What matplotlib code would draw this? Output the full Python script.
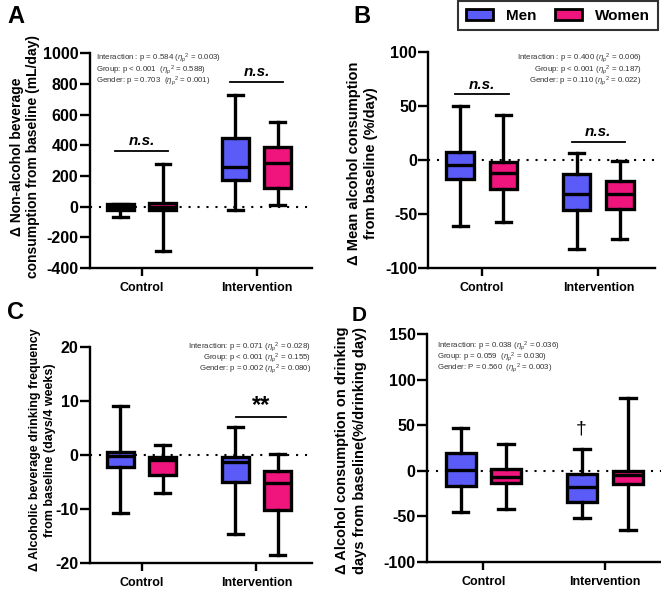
import matplotlib
matplotlib.use('Agg')
import matplotlib.pyplot as plt
from matplotlib.patches import Patch

plt.rcParams['font.family'] = ['Liberation Sans', 'DejaVu Sans']
plt.rcParams['mathtext.fontset'] = 'custom'
plt.rcParams['mathtext.rm'] = 'Liberation Sans'
plt.rcParams['mathtext.it'] = 'Liberation Sans:italic'
plt.rcParams['axes.unicode_minus'] = False

groups = ['Control', 'Intervention']
series = ['Men', 'Women']
colors = ['#5B5BF7', '#F0157D']

# each box: whislo, q1, med, q3, whishi  ->  [Control, Intervention]
a_men = [[-65, -22, -5, 15, 15], [-24, 174, 260, 448, 725]]
a_women = [[-288, -22, 0, 21, 279], [10, 123, 282, 389, 555]]
b_men = [[-61, -17, -4, 8, 50], [-82, -46, -31, -13, 7]]
b_women = [[-57, -26.5, -12, -2, 42], [-72.5, -45.5, -31, -19, -0.5]]
c_men = [[-10.7, -2.3, -0.1, 0.6, 9.0], [-14.5, -4.9, -1.35, -0.4, 5.2]]
c_women = [[-7.1, -3.7, -1.0, -0.4, 1.9], [-18.4, -10.1, -5.2, -3.0, 0.1]]
d_men = [[-45.8, -16.5, 0.5, 19.5, 47.2], [-52.3, -34, -18.5, -3.6, 24]]
d_women = [[-42.5, -13.5, -6.5, 2, 29.3], [-65.2, -14.5, -5, -0.5, 79.4]]

# significance bars: group index, bar height, label
a_sig = [(0, 365, 'n.s.'), (1, 813, 'n.s.')]
b_sig = [(0, 61, 'n.s.'), (1, 16.7, 'n.s.')]
c_sig = [(1, 7.1, '**')]
d_dagger = (1, 46, '\u2020')

eta = r'($\eta_p{}^2$'
a_stats = ['Interaction : p = 0.584 ' + eta + ' = 0.003)',
           'Group: p < 0.001  ' + eta + ' = 0.588)',
           'Gender: p = 0.703  ' + eta + ' = 0.001)']
b_stats = ['Interaction : p = 0.400 ' + eta + ' = 0.006)',
           'Group: p < 0.001 ' + eta + ' = 0.187)',
           'Gender: p = 0.110 ' + eta + ' = 0.022)']
c_stats = ['Interaction: p = 0.071 ' + eta + ' = 0.028)',
           'Group: p < 0.001 ' + eta + ' = 0.155)',
           'Gender: p = 0.002 ' + eta + ' = 0.080)']
d_stats = ['Interaction: p = 0.038 ' + eta + ' = 0.036)',
           'Group: p = 0.059  ' + eta + ' = 0.030)',
           'Gender: P = 0.560  ' + eta + ' = 0.003)']

W, H = 661, 589
fig = plt.figure(figsize=(W / 100, H / 100), dpi=100)


def add_ax(l, t, r, b):
    return fig.add_axes([l / W, 1 - b / H, (r - l) / W, (b - t) / H])


def draw(ax, men, women, ylim, yticks, xlim, off=0.185, width=0.235):
    lw = 2.4
    for k, (data, col) in enumerate(zip([men, women], colors)):
        stats = [dict(whislo=d[0], q1=d[1], med=d[2], q3=d[3], whishi=d[4])
                 for d in data]
        pos = [i + (off if k else -off) for i in range(len(groups))]
        ax.bxp(stats, positions=pos, widths=width, showfliers=False,
               patch_artist=True, capwidths=0.13,
               boxprops=dict(facecolor=col, edgecolor='black', linewidth=lw),
               medianprops=dict(color='black', linewidth=lw),
               whiskerprops=dict(color='black', linewidth=lw),
               capprops=dict(color='black', linewidth=lw))
    ax.axhline(0, color='black', lw=1.5, ls=(0, (1, 3.3)), zorder=0)
    ax.set_xlim(*xlim)
    ax.set_ylim(*ylim)
    ax.set_yticks(yticks)
    ax.set_xticks(range(len(groups)))
    ax.set_xticklabels(groups)
    for s in ['top', 'right']:
        ax.spines[s].set_visible(False)
    for s in ['left', 'bottom']:
        ax.spines[s].set_linewidth(1.7)
    ax.tick_params(axis='y', length=7, width=1.7, labelsize=11.5, pad=1)
    ax.tick_params(axis='x', length=6, width=1.7, labelsize=9, pad=4)
    for lab in ax.get_xticklabels() + ax.get_yticklabels():
        lab.set_fontweight('bold')


def sig(ax, items, half=0.23, size=11, italic=True):
    for g, y, txt in items:
        ax.plot([g - half, g + half], [y, y], color='black', lw=1.3)
        ax.annotate(txt, (g, y), xytext=(0, 2), textcoords='offset points',
                    ha='center', va='bottom', fontsize=size, fontweight='bold',
                    style='italic' if italic else 'normal')


def stats_text(ax, lines, x, y, ha):
    # one block of text, centred on the middle line
    ax.text(x, y, '\n'.join(lines), transform=ax.transAxes, ha=ha,
            va='center', multialignment=ha, fontsize=5.7, color='#333333',
            linespacing=0.78)


# A
axA = add_ax(89.5, 53.3, 312, 268)
draw(axA, a_men, a_women, (-400, 1000), range(-400, 1001, 200), (-0.455, 1.483))
sig(axA, a_sig)
stats_text(axA, a_stats, 0.03, 0.922, 'left')

# B
axB = add_ax(428.3, 52.3, 655, 268.3)
draw(axB, b_men, b_women, (-100, 100), range(-100, 101, 50), (-0.458, 1.486))
sig(axB, b_sig)
stats_text(axB, b_stats, 0.941, 0.918, 'right')

# C
axC = add_ax(89.5, 346.7, 311.7, 563.3)
draw(axC, c_men, c_women, (-20, 20), range(-20, 21, 10), (-0.455, 1.483))
for g, y, txt in c_sig:
    axC.plot([g - 0.175, g + 0.256], [y, y], color='black', lw=1.3)
    axC.annotate(txt, (g + 0.04, y), xytext=(0, 0), textcoords='offset points',
                 ha='center', va='bottom', fontsize=17, fontweight='bold')
stats_text(axC, c_stats, 0.998, 0.946, 'right')

# D
axD = add_ax(426.7, 334, 661, 561.7)
draw(axD, d_men, d_women, (-100, 150), range(-100, 151, 50), (-0.465, 1.46),
     off=0.187, width=0.247)
g, y, txt = d_dagger
axD.text(g - 0.2, y, txt, ha='center', va='center', fontsize=14)
stats_text(axD, d_stats, 0.045, 0.896, 'left')

# y labels
fig.text(25 / W, 1 - 157 / H,
         '\u0394 Non-alcohol beverage\nconsumption from baseline (mL/day)',
         rotation=90, ha='center', va='center', fontsize=10, fontweight='bold',
         linespacing=1.2)
fig.text(362.5 / W, 1 - 163 / H,
         '\u0394 Mean alcohol consumption\nfrom baseline (%/day)',
         rotation=90, ha='center', va='center', fontsize=10.5, fontweight='bold',
         linespacing=1.25)
fig.text(42.5 / W, 1 - 450 / H,
         '\u0394 Alcoholic beverage drinking frequency\nfrom baseline (days/4 weeks)',
         rotation=90, ha='center', va='center', fontsize=9, fontweight='bold',
         linespacing=1.4)
fig.text(351 / W, 1 - 450 / H,
         '\u0394 Alcohol consumption on drinking\ndays from baseline(%/drinking day)',
         rotation=90, ha='center', va='center', fontsize=10.5, fontweight='bold',
         linespacing=1.35)

# panel letters
for (x, y, s, fs) in [(7, 5, 'A', 17), (353, 5, 'B', 17), (7, 301, 'C', 17),
                      (352, 306, 'D', 15)]:
    fig.text(x / W, 1 - y / H, s, ha='left', va='top', fontsize=fs,
             fontweight='bold')

handles = [Patch(facecolor=c, edgecolor='black', linewidth=2, label=s)
           for c, s in zip(colors, series)]
leg = fig.legend(handles=handles, loc='upper right', ncol=2,
                 bbox_to_anchor=(658 / W, 1 - 1 / H), frameon=True,
                 fancybox=False, edgecolor='black', borderaxespad=0,
                 prop=dict(weight='bold', size=11), handlelength=1.8,
                 handleheight=0.8, handletextpad=0.85, columnspacing=1.2,
                 borderpad=0.5)
leg.get_frame().set_linewidth(1.5)

fig.savefig('out.png', dpi=100)
